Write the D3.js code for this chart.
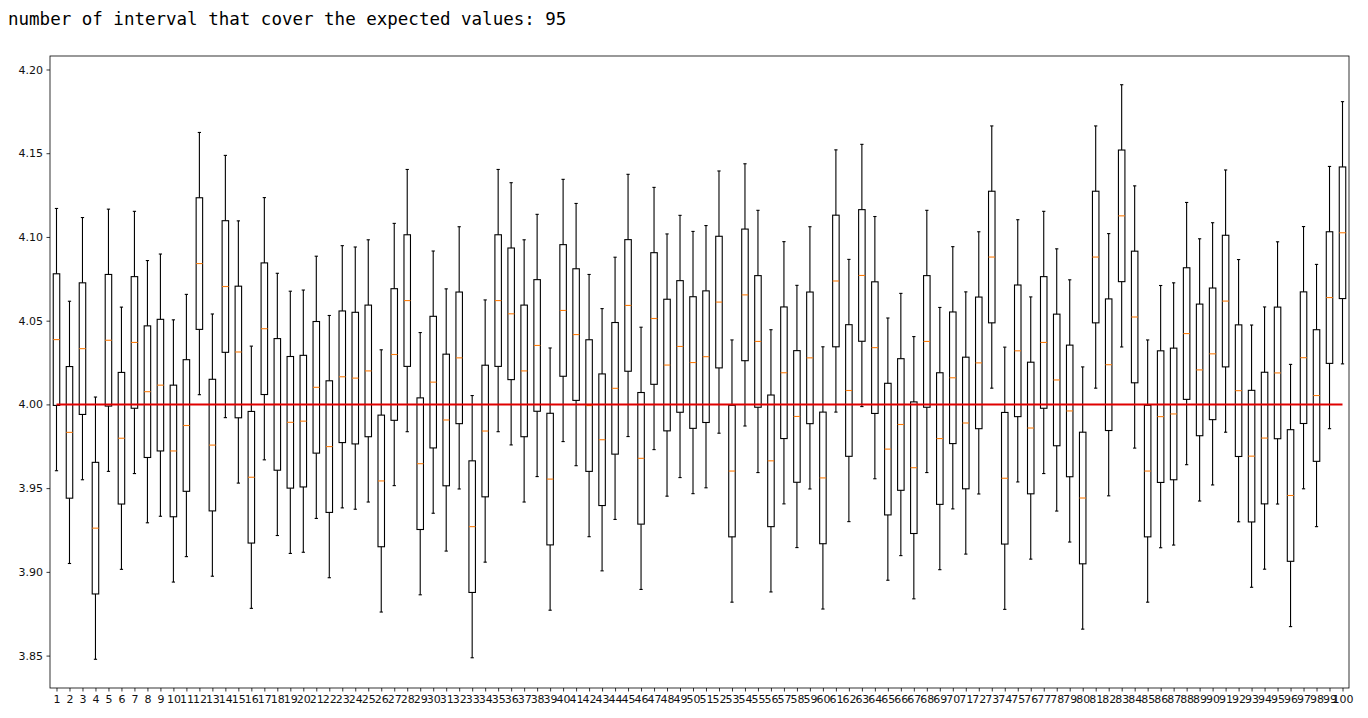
<!DOCTYPE html>
<html>
<head>
<meta charset="utf-8">
<script src="https://cdnjs.cloudflare.com/ajax/libs/d3/7.8.5/d3.min.js"></script>
<style>
    body { margin: 0; background: #fff; }
</style>
</head>
<body>
<svg id="chart"></svg>
<script>
// judul yang dicetak di atas grafik
const titleText = 'number of interval that cover the expected values: 95';
const expectedValue = 4.00;

// nomor interval (kategori sumbu x)
const intervalIds = d3.range(1, 101);

// nilai kotak per interval
const whiskerLow = [
    3.9604, 3.9050, 3.9550, 3.8478, 3.9600, 3.9015, 3.9587, 3.9293, 3.9332, 3.8939,
    3.9091, 4.0058, 3.8974, 3.9921, 3.9530, 3.8782, 3.9669, 3.9217, 3.9110, 3.9117,
    3.9319, 3.8965, 3.9382, 3.9374, 3.9417, 3.8760, 3.9515, 3.9837, 3.8863, 3.9350,
    3.9124, 3.9495, 3.8487, 3.9058, 3.9837, 3.9758, 3.9417, 3.9569, 3.8771, 3.9778,
    3.9634, 3.9210, 3.9006, 3.9313, 3.9808, 3.8895, 3.9730, 3.9452, 3.9563, 3.9467,
    3.9502, 3.9828, 3.8819, 3.9871, 3.9593, 3.8880, 3.9406, 3.9145, 3.9495, 3.8778,
    3.9954, 3.9300, 3.9987, 3.9556, 3.8950, 3.9097, 3.8839, 3.9593, 3.9013, 3.9376,
    3.9106, 3.9465, 4.0097, 3.8776, 3.9537, 3.9076, 3.9587, 3.9363, 3.9178, 3.8658,
    4.0097, 3.9454, 4.0343, 3.9739, 3.8819, 3.9144, 3.9160, 3.9640, 3.9423, 3.9519,
    3.9834, 3.9299, 3.8908, 3.9016, 3.9405, 3.8673, 3.9496, 3.9270, 3.9855, 4.0242
];
const q1 = [
    3.9994, 3.9440, 3.9940, 3.8868, 3.9990, 3.9405, 3.9977, 3.9683, 3.9722, 3.9329,
    3.9481, 4.0448, 3.9364, 4.0311, 3.9920, 3.9172, 4.0059, 3.9607, 3.9500, 3.9507,
    3.9709, 3.9355, 3.9772, 3.9764, 3.9807, 3.9150, 3.9905, 4.0227, 3.9253, 3.9740,
    3.9514, 3.9885, 3.8877, 3.9448, 4.0227, 4.0148, 3.9807, 3.9959, 3.9161, 4.0168,
    4.0024, 3.9600, 3.9396, 3.9703, 4.0198, 3.9285, 4.0120, 3.9842, 3.9953, 3.9857,
    3.9892, 4.0218, 3.9209, 4.0261, 3.9983, 3.9270, 3.9796, 3.9535, 3.9885, 3.9168,
    4.0344, 3.9690, 4.0377, 3.9946, 3.9340, 3.9487, 3.9229, 3.9983, 3.9403, 3.9766,
    3.9496, 3.9855, 4.0487, 3.9166, 3.9927, 3.9466, 3.9977, 3.9753, 3.9568, 3.9048,
    4.0487, 3.9844, 4.0733, 4.0129, 3.9209, 3.9534, 3.9550, 4.0030, 3.9813, 3.9909,
    4.0224, 3.9689, 3.9298, 3.9406, 3.9795, 3.9063, 3.9886, 3.9660, 4.0245, 4.0632
];
const medians = [
    4.0387, 3.9833, 4.0333, 3.9261, 4.0383, 3.9798, 4.0370, 4.0076, 4.0115, 3.9722,
    3.9874, 4.0841, 3.9757, 4.0704, 4.0313, 3.9565, 4.0452, 4.0000, 3.9893, 3.9900,
    4.0102, 3.9748, 4.0165, 4.0157, 4.0200, 3.9543, 4.0298, 4.0620, 3.9646, 4.0133,
    3.9907, 4.0278, 3.9270, 3.9841, 4.0620, 4.0541, 4.0200, 4.0352, 3.9554, 4.0561,
    4.0417, 3.9993, 3.9789, 4.0096, 4.0591, 3.9678, 4.0513, 4.0235, 4.0346, 4.0250,
    4.0285, 4.0611, 3.9602, 4.0654, 4.0376, 3.9663, 4.0189, 3.9928, 4.0278, 3.9561,
    4.0737, 4.0083, 4.0770, 4.0339, 3.9733, 3.9880, 3.9622, 4.0376, 3.9796, 4.0159,
    3.9889, 4.0248, 4.0880, 3.9559, 4.0320, 3.9859, 4.0370, 4.0146, 3.9961, 3.9441,
    4.0880, 4.0237, 4.1126, 4.0522, 3.9602, 3.9927, 3.9943, 4.0423, 4.0206, 4.0302,
    4.0617, 4.0082, 3.9691, 3.9799, 4.0188, 3.9456, 4.0279, 4.0053, 4.0638, 4.1025
];
const q3 = [
    4.0780, 4.0226, 4.0726, 3.9654, 4.0776, 4.0191, 4.0763, 4.0469, 4.0508, 4.0115,
    4.0267, 4.1234, 4.0150, 4.1097, 4.0706, 3.9958, 4.0845, 4.0393, 4.0286, 4.0293,
    4.0495, 4.0141, 4.0558, 4.0550, 4.0593, 3.9936, 4.0691, 4.1013, 4.0039, 4.0526,
    4.0300, 4.0671, 3.9663, 4.0234, 4.1013, 4.0934, 4.0593, 4.0745, 3.9947, 4.0954,
    4.0810, 4.0386, 4.0182, 4.0489, 4.0984, 4.0071, 4.0906, 4.0628, 4.0739, 4.0643,
    4.0678, 4.1004, 3.9995, 4.1047, 4.0769, 4.0056, 4.0582, 4.0321, 4.0671, 3.9954,
    4.1130, 4.0476, 4.1163, 4.0732, 4.0126, 4.0273, 4.0015, 4.0769, 4.0189, 4.0552,
    4.0282, 4.0641, 4.1273, 3.9952, 4.0713, 4.0252, 4.0763, 4.0539, 4.0354, 3.9834,
    4.1273, 4.0630, 4.1519, 4.0915, 3.9995, 4.0320, 4.0336, 4.0816, 4.0599, 4.0695,
    4.1010, 4.0475, 4.0084, 4.0192, 4.0581, 3.9849, 4.0672, 4.0446, 4.1031, 4.1418
];
const whiskerHigh = [
    4.1170, 4.0616, 4.1116, 4.0044, 4.1166, 4.0581, 4.1153, 4.0859, 4.0898, 4.0505,
    4.0657, 4.1624, 4.0540, 4.1487, 4.1096, 4.0348, 4.1235, 4.0783, 4.0676, 4.0683,
    4.0885, 4.0531, 4.0948, 4.0940, 4.0983, 4.0326, 4.1081, 4.1403, 4.0429, 4.0916,
    4.0690, 4.1061, 4.0053, 4.0624, 4.1403, 4.1324, 4.0983, 4.1135, 4.0337, 4.1344,
    4.1200, 4.0776, 4.0572, 4.0879, 4.1374, 4.0461, 4.1296, 4.1018, 4.1129, 4.1033,
    4.1068, 4.1394, 4.0385, 4.1437, 4.1159, 4.0446, 4.0972, 4.0711, 4.1061, 4.0344,
    4.1520, 4.0866, 4.1553, 4.1122, 4.0516, 4.0663, 4.0405, 4.1159, 4.0579, 4.0942,
    4.0672, 4.1031, 4.1663, 4.0342, 4.1103, 4.0642, 4.1153, 4.0929, 4.0744, 4.0224,
    4.1663, 4.1020, 4.1909, 4.1305, 4.0385, 4.0710, 4.0726, 4.1206, 4.0989, 4.1085,
    4.1400, 4.0865, 4.0474, 4.0582, 4.0971, 4.0239, 4.1062, 4.0836, 4.1421, 4.1808
];

// label sumbu y
const yTicks = [3.85, 3.90, 3.95, 4.00, 4.05, 4.10, 4.15, 4.20];

const width = 1368;
const height = 718;
const margin = { top: 56, right: 19, bottom: 30, left: 50 };
const plotRight = width - margin.right;
const plotBottom = height - margin.bottom;

const svg = d3.select('#chart')
    .attr('width', width)
    .attr('height', height)
    .style('font-family', '"DejaVu Sans", sans-serif');

// judul (teks output notebook, monospace)
svg.append('text')
    .attr('x', 8)
    .attr('y', 25)
    .text(titleText)
    .style('font-family', '"DejaVu Sans Mono", monospace')
    .style('font-size', '17.5px')
    .style('fill', '#000');

// skala, batas y seperti matplotlib (margin 5%)
const yMin = d3.min(whiskerLow);
const yMax = d3.max(whiskerHigh);
const yPad = (yMax - yMin) * 0.05;

const x = d3.scaleLinear()
    .domain([0.5, intervalIds.length + 0.5])
    .range([margin.left, plotRight]);

const y = d3.scaleLinear()
    .domain([yMin - yPad, yMax + yPad])
    .range([plotBottom, margin.top]);

const step = x(2) - x(1);
const boxWidth = step * 0.5;
const capWidth = boxWidth * 0.5;

// sumbu x
const xAxis = svg.append('g')
    .attr('transform', `translate(0, ${plotBottom})`)
    .call(d3.axisBottom(x).tickValues(intervalIds).tickSize(3.5).tickPadding(3.5));

// sumbu y
const yAxis = svg.append('g')
    .attr('transform', `translate(${margin.left}, 0)`)
    .call(d3.axisLeft(y).tickValues(yTicks).tickFormat(d3.format('.2f')).tickSize(3.5).tickPadding(3.5));

[xAxis, yAxis].forEach(function (ax) {
    ax.select('.domain').remove();
    ax.selectAll('line').style('stroke', '#000').style('stroke-width', 0.8);
    ax.selectAll('text')
        .style('font-family', '"DejaVu Sans", sans-serif')
        .style('font-size', '11px')
        .style('fill', '#111');
});

// kotak-kotak
const boxes = svg.append('g').attr('class', 'boxes')
    .selectAll('g')
    .data(intervalIds.map((id, i) => ({
        id: id,
        lo: whiskerLow[i],
        q1: q1[i],
        med: medians[i],
        q3: q3[i],
        hi: whiskerHigh[i]
    })))
    .enter().append('g')
    .attr('class', 'box');

// whisker bawah dan atas
boxes.append('line')
    .attr('x1', d => x(d.id)).attr('x2', d => x(d.id))
    .attr('y1', d => y(d.lo)).attr('y2', d => y(d.q1));
boxes.append('line')
    .attr('x1', d => x(d.id)).attr('x2', d => x(d.id))
    .attr('y1', d => y(d.q3)).attr('y2', d => y(d.hi));

// cap
boxes.append('line')
    .attr('x1', d => x(d.id) - capWidth / 2).attr('x2', d => x(d.id) + capWidth / 2)
    .attr('y1', d => y(d.lo)).attr('y2', d => y(d.lo));
boxes.append('line')
    .attr('x1', d => x(d.id) - capWidth / 2).attr('x2', d => x(d.id) + capWidth / 2)
    .attr('y1', d => y(d.hi)).attr('y2', d => y(d.hi));

boxes.selectAll('line')
    .style('stroke', '#000')
    .style('stroke-width', 1.1);

boxes.append('rect')
    .attr('x', d => x(d.id) - boxWidth / 2)
    .attr('width', boxWidth)
    .attr('y', d => y(d.q3))
    .attr('height', d => y(d.q1) - y(d.q3))
    .style('fill', 'none')
    .style('stroke', '#000')
    .style('stroke-width', 1.1);

// median
boxes.append('line')
    .attr('x1', d => x(d.id) - boxWidth / 2).attr('x2', d => x(d.id) + boxWidth / 2)
    .attr('y1', d => y(d.med)).attr('y2', d => y(d.med))
    .style('stroke', '#ff7f0e')
    .style('stroke-width', 1.1);

// garis nilai harapan
svg.append('line')
    .attr('x1', x(intervalIds[0]))
    .attr('x2', x(intervalIds[intervalIds.length - 1]))
    .attr('y1', y(expectedValue))
    .attr('y2', y(expectedValue))
    .style('stroke', '#e00000')
    .style('stroke-width', 2);

// bingkai plot
svg.append('rect')
    .attr('x', margin.left)
    .attr('y', margin.top)
    .attr('width', plotRight - margin.left)
    .attr('height', plotBottom - margin.top)
    .style('fill', 'none')
    .style('stroke', '#000')
    .style('stroke-width', 0.8);
</script>
</body>
</html>
